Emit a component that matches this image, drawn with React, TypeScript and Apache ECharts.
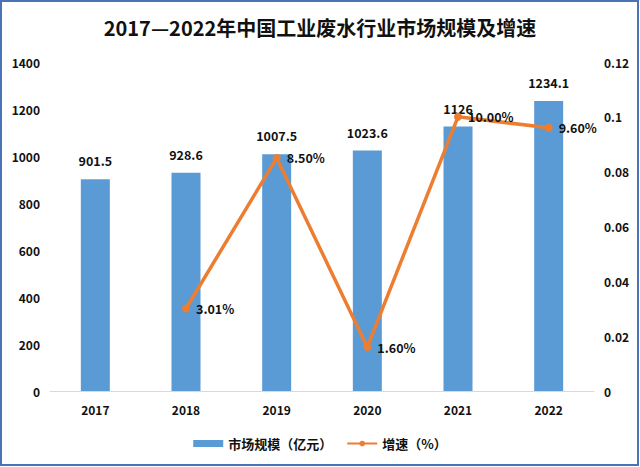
import React, { useEffect, useRef } from "react";
import * as echarts from "echarts";

const years = ["2017", "2018", "2019", "2020", "2021", "2022"];
const marketSize = [901.5, 928.6, 1007.5, 1023.6, 1126, 1234.1];
const growth: (number | null)[] = [null, 0.0301, 0.085, 0.016, 0.1, 0.096];
const growthLabels = ["", "3.01%", "8.50%", "1.60%", "10.00%", "9.60%"];

export default function App() {
  const ref = useRef<HTMLDivElement>(null);
  useEffect(() => {
    const chart = echarts.init(ref.current!, null, { renderer: "svg" });
    const font = "'Noto Sans CJK SC', 'Noto Sans', sans-serif";
    chart.setOption({
      animation: false,
      backgroundColor: "#ffffff",
      textStyle: { fontFamily: font },
      title: {
        text: "2017—2022年中国工业废水行业市场规模及增速",
        left: "center",
        top: 12,
        textStyle: { fontSize: 20, fontWeight: "bold", color: "#111", fontFamily: font },
      },
      graphic: [
        {
          type: "rect",
          shape: { x: 1, y: 1, width: 637, height: 464 },
          style: { fill: "none", stroke: "#4a72b8", lineWidth: 2 },
          silent: true,
        },
      ],
      grid: { left: 50, right: 46, top: 62, bottom: 76 },
      legend: {
        bottom: 12,
        left: "center",
        itemGap: 14,
        textStyle: { fontSize: 13, fontWeight: "bold", color: "#111", fontFamily: font },
        data: [
          { name: "市场规模（亿元）", icon: "rect", itemStyle: { color: "#5B9BD5" } },
          { name: "增速（%）" },
        ],
        itemWidth: 30,
        itemHeight: 7,
      },
      xAxis: {
        type: "category",
        data: years,
        axisLine: { lineStyle: { color: "#d9d9d9" } },
        axisTick: { show: false },
        axisLabel: { fontSize: 12, fontWeight: "bold", color: "#111", margin: 12 },
      },
      yAxis: [
        {
          type: "value",
          min: 0,
          max: 1400,
          interval: 200,
          axisLine: { show: false },
          axisTick: { show: false },
          splitLine: { show: false },
          axisLabel: {
            fontSize: 12,
            fontWeight: "bold",
            color: "#111",
            margin: 10,
            formatter: (v: number) => String(v),
          },
        },
        {
          type: "value",
          min: 0,
          max: 0.12,
          interval: 0.02,
          axisLine: { show: false },
          axisTick: { show: false },
          splitLine: { show: false },
          axisLabel: {
            fontSize: 12,
            fontWeight: "bold",
            color: "#111",
            margin: 10,
            formatter: (v: number) => String(Math.round(v * 100) / 100),
          },
        },
      ],
      series: [
        {
          name: "市场规模（亿元）",
          type: "bar",
          data: marketSize,
          barWidth: 29,
          itemStyle: { color: "#5B9BD5" },
          label: {
            show: true,
            position: "top",
            distance: 12,
            fontSize: 12.5,
            fontWeight: "bold",
            color: "#111",
          },
        },
        {
          name: "增速（%）",
          type: "line",
          yAxisIndex: 1,
          data: growth,
          connectNulls: false,
          symbol: "circle",
          symbolSize: 8,
          lineStyle: { color: "#ED7D31", width: 3.5 },
          itemStyle: { color: "#ED7D31" },
          label: {
            show: true,
            position: "right",
            distance: 6,
            fontSize: 12.5,
            fontWeight: "bold",
            color: "#111",
            formatter: (p: any) => growthLabels[p.dataIndex],
          },
          z: 3,
        },
      ],
    });
    return () => chart.dispose();
  }, []);
  return (
    <div
      ref={ref}
      style={{ position: "fixed", left: 0, top: 0, width: 640, height: 467 }}
    />
  );
}
